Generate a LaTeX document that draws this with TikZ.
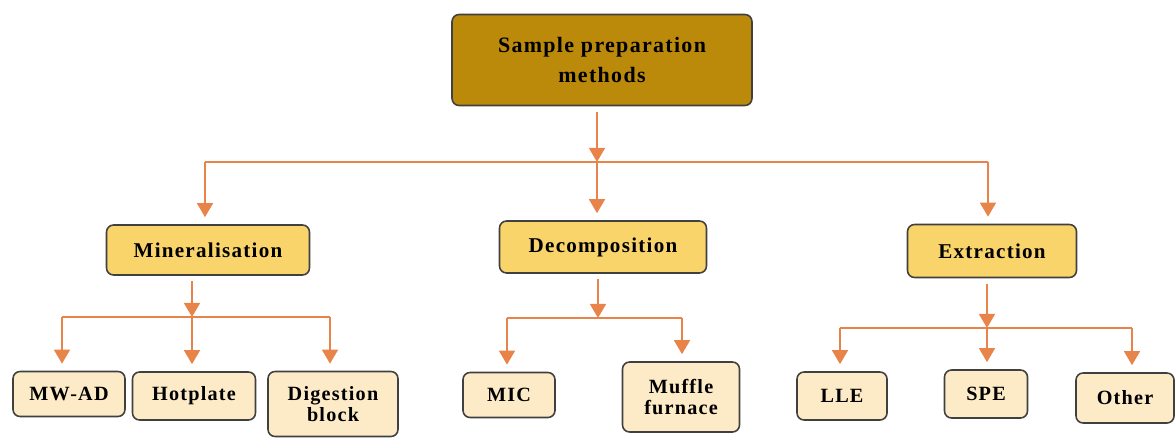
\documentclass[tikz,border=0pt]{standalone}
\usepackage{fontspec}
\setmainfont{Liberation Serif}
\newfontfamily\boxfont[LetterSpace=6]{Liberation Serif}
\usetikzlibrary{arrows.meta}
\definecolor{gold}{HTML}{BC8A0A}
\definecolor{amber}{HTML}{F9D46A}
\definecolor{cream}{HTML}{FCEBC6}
\definecolor{flow}{HTML}{E8844A}
\tikzset{
    box/.style={draw=black!75, line width=0.9pt, rounded corners=4pt, align=center, inner sep=2pt},
    topbox/.style={box, fill=gold, font=\boxfont\bfseries\fontsize{12.5}{17.5}\selectfont},
    midbox/.style={box, fill=amber, font=\boxfont\bfseries\fontsize{12}{14}\selectfont},
    leafbox/.style={box, fill=cream, font=\boxfont\bfseries\fontsize{11.5}{12}\selectfont},
    flowline/.style={flow, line width=1.3pt},
    flowarrow/.style={flowline, -{Triangle[length=8pt,width=9pt]}},
}
\newcommand{\drop}[2]{
    \draw[flowarrow, shorten >=4pt] (#1) -- (#1 |- #2.north);
}

\begin{document}
\begin{tikzpicture}[x=0.02cm,y=-0.02cm]
        \useasboundingbox (0,0) rectangle (1175,439);
        \node[topbox, minimum width=6cm, minimum height=1.82cm] (top) at (602,60) {Sample preparation\\methods};
        \node[midbox, minimum width=4.06cm, minimum height=1cm] (mnr) at (208,250) {Mineralisation};
        \node[midbox, minimum width=4.14cm, minimum height=1.04cm] (dcp) at (603,247) {Decomposition};
        \node[midbox, minimum width=3.38cm, minimum height=1.06cm] (ext) at (992,251) {Extraction};
        \node[leafbox, minimum width=2.24cm, minimum height=0.9cm] (mwad) at (69,394) {MW-AD};
        \node[leafbox, minimum width=2.46cm, minimum height=0.96cm] (hot) at (194,396) {Hotplate};
        \node[leafbox, minimum width=2.6cm, minimum height=1.3cm] (dig) at (333,404) {Digestion\\block};
        \node[leafbox, minimum width=1.84cm, minimum height=0.9cm] (mic) at (509,395) {MIC};
        \node[leafbox, minimum width=2.34cm, minimum height=1.4cm] (muf) at (681,397) {Muffle\\furnace};
        \node[leafbox, minimum width=1.8cm, minimum height=0.96cm] (lle) at (842,396) {LLE};
        \node[leafbox, minimum width=1.66cm, minimum height=0.96cm] (spe) at (986,394) {SPE};
        \node[leafbox, minimum width=1.96cm, minimum height=1cm] (oth) at (1125,398) {Other};
        \coordinate (j0) at (597,162);
        \coordinate (j0l) at (205,162);
        \coordinate (j0r) at (988,162);
        \coordinate (j1) at (192,317);
        \coordinate (j1l) at (62,317);
        \coordinate (j1r) at (330,317);
        \coordinate (j2) at (598,318);
        \coordinate (j2l) at (507,318);
        \coordinate (j2r) at (682,318);
        \coordinate (j3) at (987,328);
        \coordinate (j3l) at (840,328);
        \coordinate (j3r) at (1132,328);
        \draw[flowarrow, shorten <=3pt] (top.south -| j0) -- (j0);
        \draw[flowline] (j0l) -- (j0r);
        \drop{j0l}{mnr}
        \drop{j0}{dcp}
        \drop{j0r}{ext}
        \draw[flowarrow, shorten <=3pt] (mnr.south -| j1) -- (j1);
        \draw[flowline] (j1l) -- (j1r);
        \drop{j1l}{mwad}
        \drop{j1}{hot}
        \drop{j1r}{dig}
        \draw[flowarrow, shorten <=3pt] (dcp.south -| j2) -- (j2);
        \draw[flowline] (j2l) -- (j2r);
        \drop{j2l}{mic}
        \drop{j2r}{muf}
        \draw[flowarrow, shorten <=3pt] (ext.south -| j3) -- (j3);
        \draw[flowline] (j3l) -- (j3r);
        \drop{j3l}{lle}
        \drop{j3}{spe}
        \drop{j3r}{oth}
    \end{tikzpicture}
\end{document}
